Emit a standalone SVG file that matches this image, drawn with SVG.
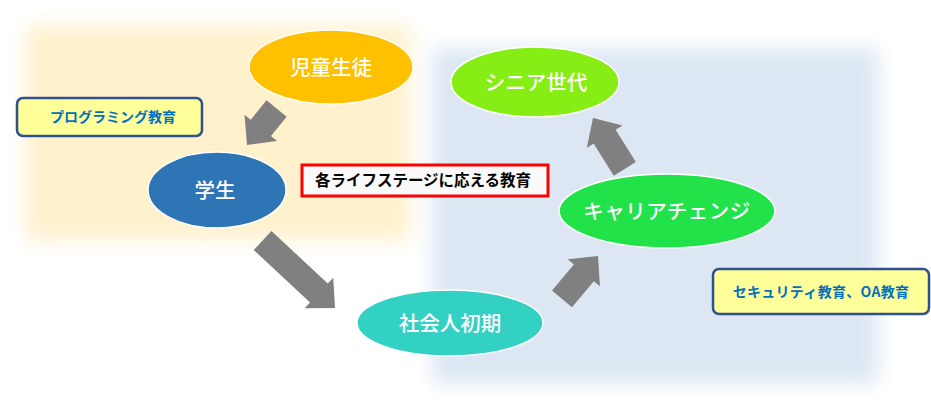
<svg xmlns="http://www.w3.org/2000/svg" width="931" height="412" viewBox="0 0 931 412">
  <defs>
    <filter id="soft" x="-20%" y="-20%" width="140%" height="140%">
      <feGaussianBlur stdDeviation="10"/>
    </filter>
  </defs>
  <style>
    .node { stroke: #ffffff; stroke-width: 1.5; }
    .ntext { font-family: "Noto Sans CJK JP", "Noto Sans", sans-serif; font-size: 20.5px; font-weight: 500; fill: #ffffff; text-anchor: middle; }
    .note { fill: #ffff99; stroke: #2f528f; stroke-width: 2.5; }
    .ntxt { font-family: "Noto Sans CJK JP", "Noto Sans", sans-serif; font-size: 14px; font-weight: bold; fill: #0070c0; text-anchor: middle; }
    .arrow { fill: #808080; }
  </style>
  <rect width="931" height="412" fill="#ffffff"/>
  <g id="backgrounds">
    <rect x="26" y="26" width="384" height="214" fill="#fff1cc" filter="url(#soft)"/>
    <rect x="432" y="48" width="446" height="335" fill="#dce7f3" filter="url(#soft)"/>
  </g>
  <g id="connectors">
    <path class="arrow" transform="translate(247,145) rotate(129)" d="M -47,-13 L -22,-13 L -22,-21 L 0,0 L -22,21 L -22,13 L -47,13 Z"/>
    <path class="arrow" transform="translate(335,308) rotate(43)" d="M -99,-13 L -22,-13 L -22,-21 L 0,0 L -22,21 L -22,13 L -99,13 Z"/>
    <path class="arrow" transform="translate(598,256) rotate(-50)" d="M -56,-13 L -22,-13 L -22,-21 L 0,0 L -22,21 L -22,13 L -56,13 Z"/>
    <path class="arrow" transform="translate(593,118) rotate(-122)" d="M -60,-13 L -22,-13 L -22,-21 L 0,0 L -22,21 L -22,13 L -60,13 Z"/>
  </g>
  <g id="node-jidou">
    <ellipse class="node" cx="331" cy="67" rx="82" ry="37" fill="#ffc000"/>
    <text class="ntext" x="331" y="74.5">児童生徒</text>
  </g>
  <g id="node-gakusei">
    <ellipse class="node" cx="217" cy="190" rx="69" ry="38" fill="#2e75b6"/>
    <text class="ntext" x="215" y="197.5">学生</text>
  </g>
  <g id="node-shakaijin">
    <ellipse class="node" cx="450" cy="323" rx="93" ry="33" fill="#33d1c4"/>
    <text class="ntext" x="450" y="330.5">社会人初期</text>
  </g>
  <g id="node-career">
    <ellipse class="node" cx="667" cy="211" rx="108" ry="37" fill="#22e24a"/>
    <text class="ntext" x="667" y="218.5" letter-spacing="0.5">キャリアチェンジ</text>
  </g>
  <g id="node-senior">
    <ellipse class="node" cx="535" cy="82" rx="84" ry="35" fill="#86ee14"/>
    <text class="ntext" x="536" y="89.5">シニア世代</text>
  </g>
  <g id="note-programming">
    <rect class="note" x="17" y="98" width="185" height="38" rx="6"/>
    <text class="ntxt" x="113" y="122">プログラミング教育</text>
  </g>
  <g id="note-security">
    <rect class="note" x="713" y="269" width="216" height="45" rx="6"/>
    <text class="ntxt" x="821" y="297" letter-spacing="0.3">セキュリティ教育、OA教育</text>
  </g>
  <g id="title">
    <rect x="302" y="165" width="246" height="31" fill="#fafafa" stroke="#ff0000" stroke-width="3"/>
    <text x="423" y="186" font-family="'Noto Sans CJK JP', 'Noto Sans', sans-serif" font-size="15.5" font-weight="bold" fill="#000000" text-anchor="middle">各ライフステージに応える教育</text>
  </g>
</svg>
